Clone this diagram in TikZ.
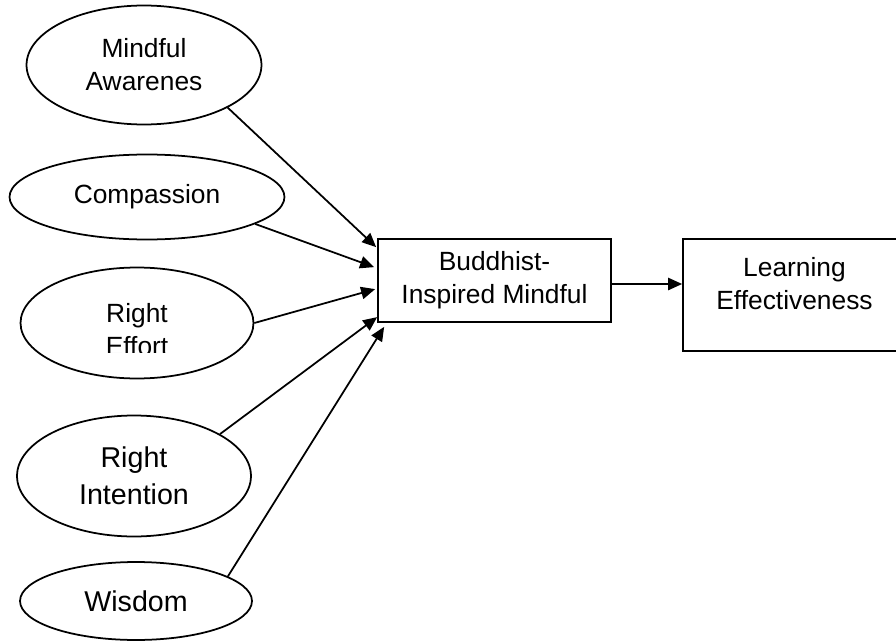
\documentclass[tikz,border=0pt]{standalone}
\usepackage{fontspec}
\setmainfont{Liberation Sans}
\usetikzlibrary{arrows.meta,%
                shapes.geometric,%
                calc}

\begin{document}
\begin{tikzpicture}[x=0.02cm,y=-0.02cm]
  \tikzstyle{EllipseStyle}=[draw,ellipse,line width=1pt,inner sep=0pt,align=center,font=\fontsize{15}{18.7}\selectfont]
  \tikzstyle{BigEllipseStyle}=[EllipseStyle,font=\fontsize{16.3}{21}\selectfont]
  \tikzstyle{BoxStyle}=[draw,rectangle,line width=1pt,inner sep=0pt,align=center,font=\fontsize{15}{18.7}\selectfont]
  \tikzstyle{TextStyle}=[align=center,inner sep=0pt,font=\fontsize{15}{18.7}\selectfont]
  \tikzstyle{EdgeStyle}=[line width=1pt,-{Triangle[length=8pt,width=7pt]}]
  \useasboundingbox (0,0) rectangle (896,642);
  % factors
  \node[EllipseStyle,minimum width=4.7cm,minimum height=2.38cm] (aware) at (144,65) {Mindful\\Awarenes};
  \node[EllipseStyle,minimum width=5.5cm,minimum height=1.7cm] (compassion) at (147,197) {Compassion};
  \node[EllipseStyle,minimum width=4.66cm,minimum height=2.22cm] (effort) at (137,323) {};
  \begin{scope}
    \clip (20,268) rectangle (253,352.5);
    \node[TextStyle] (efforttext) at (137,330) {Right\\Effort};
  \end{scope}
  \node[BigEllipseStyle,minimum width=4.68cm,minimum height=2.42cm] (intention) at (134,476) {Right\\Intention};
  \node[BigEllipseStyle,minimum width=4.64cm,minimum height=1.56cm] (wisdom) at (136,601) {Wisdom};
  % mediator and outcome
  \node[BoxStyle,minimum width=4.66cm,minimum height=1.66cm] (buddhist) at (494.5,280.5) {Buddhist-\\Inspired Mindful};
  \node[BoxStyle,minimum width=4.46cm,minimum height=2.24cm] (learning) at (794.5,295) {};
  \node[TextStyle] (learningtext) at (794.5,284) {Learning\\Effectiveness};
  % arrow ends
  \coordinate (in1) at ($(buddhist.north west)+(-1,9)$);
  \coordinate (in2) at ($(buddhist.north west)+(-3,29)$);
  \coordinate (in3) at ($(buddhist.north west)+(-2,51)$);
  \coordinate (in4) at ($(buddhist.north west)+(0,79)$);
  \coordinate (in5) at ($(buddhist.south west)+(7,4)$);
  \coordinate (out) at ($(buddhist.east)+(0,3.5)$);
  \draw[EdgeStyle] (aware.-27.4) -- (in1);
  \draw[EdgeStyle] (compassion.-14.5) -- (in2);
  \draw[EdgeStyle] (effort.east) -- (in3);
  \draw[EdgeStyle] (intention.26.3) -- (in4);
  \draw[EdgeStyle] (wisdom.15.6) -- (in5);
  \draw[EdgeStyle] (out) -- (out -| learning.west);
\end{tikzpicture}
\end{document}
